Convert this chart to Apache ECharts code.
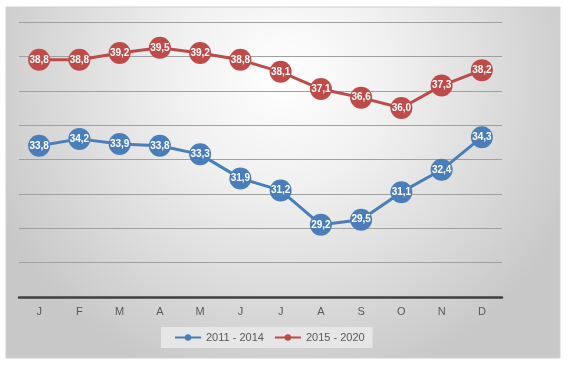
<!DOCTYPE html>
<html><head><meta charset="utf-8">
<script src="https://cdn.jsdelivr.net/npm/echarts@6/dist/echarts.min.js"></script>
<style>html,body{margin:0;padding:0;background:#fff}#c{width:567px;height:367px}</style>
</head><body><div id="c"></div>
<script>
const months = ['J','F','M','A','M','J','J','A','S','O','N','D'];
const seriesNames = ['2011 - 2014','2015 - 2020'];
const s2011 = [33.8,34.2,33.9,33.8,33.3,31.9,31.2,29.2,29.5,31.1,32.4,34.3];
const s2015 = [38.8,38.8,39.2,39.5,39.2,38.8,38.1,37.1,36.6,36.0,37.3,38.2];
const colors = ['#4a7ebb','#be4b48'];
const fmt = p => p.value.toFixed(1).replace('.', ',');
const chart = echarts.init(document.getElementById('c'), null, {renderer:'canvas'});
const font = "'Liberation Sans',sans-serif";
function mk(name, data, color){
  return {name, type:'line', data, yAxisIndex:0, color,
    symbol:'circle', symbolSize:22,
    lineStyle:{width:3,color}, itemStyle:{color},
    label:{show:true, position:'inside', color:'#fff', fontWeight:'bold', fontSize:10, fontFamily:font, formatter:fmt},
    emphasis:{disabled:true}, animation:false, z:5};
}
chart.setOption({
  animation:false,
  graphic:[{type:'rect', z:-10, silent:true,
    shape:{x:6,y:7,width:554,height:351},
    style:{fill:new echarts.graphic.RadialGradient(0.5,0.2,0.9,[{offset:0,color:'#ffffff'},{offset:0.35,color:'#f0f0f0'},{offset:1,color:'#c8c8c8'}]), stroke:'#d0d0d0', lineWidth:1}}],
  grid:{left:19,right:65,top:22,bottom:70},
  legend:{data:seriesNames, left:161, top:327, orient:'horizontal', backgroundColor:'#e6e6e6', padding:[5,8,5,13],
    itemWidth:26, itemHeight:8, itemGap:10,
    textStyle:{color:'#595959', fontSize:11, fontFamily:font}},
  xAxis:{type:'category', data:months, boundaryGap:true,
    axisLine:{lineStyle:{color:'#3f3f3f', width:2.5}}, axisTick:{show:false},
    axisLabel:{color:'#595959', fontSize:11, margin:9, fontFamily:font}},
  yAxis:[
    {type:'value', min:25, max:41, show:false, splitLine:{show:false}},
    {type:'value', min:0, max:16, interval:2, axisLine:{show:false}, axisTick:{show:false}, axisLabel:{show:false},
      splitLine:{show:true, lineStyle:{color:'#a0a0a0', width:1}}}
  ],
  series:[mk(seriesNames[0], s2011, colors[0]), mk(seriesNames[1], s2015, colors[1])]
});
</script></body></html>
